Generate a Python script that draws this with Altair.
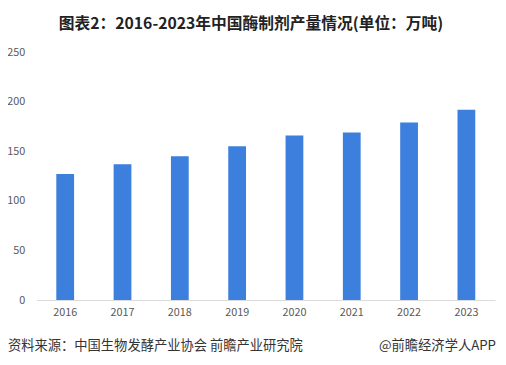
import altair as alt
import pandas as pd

years = ["2016", "2017", "2018", "2019", "2020", "2021", "2022", "2023"]
values = [127, 137, 145, 155, 166, 169, 179, 192]

df = pd.DataFrame({"year": years, "value": values})

FONT = "Noto Sans CJK SC"

bars = alt.Chart(df).mark_bar(color="#3C7FDC").encode(
    x=alt.X("year:N", sort=years, title=None,
            scale=alt.Scale(paddingInner=0.69, paddingOuter=0.345),
            axis=alt.Axis(labelAngle=0, ticks=False, domainColor="#d9d9d9",
                          labelColor="#595959", labelFontSize=11, labelFont=FONT,
                          labelPadding=7)),
    y=alt.Y("value:Q", title=None,
            scale=alt.Scale(domain=[0, 250]),
            axis=alt.Axis(values=[0, 50, 100, 150, 200, 250], grid=False, domain=False,
                          ticks=False, labelColor="#595959", labelFontSize=11,
                          labelFont=FONT, labelPadding=12)),
)

src = alt.Chart(pd.DataFrame({"t": ["资料来源：中国生物发酵产业协会 前瞻产业研究院"]})).mark_text(
    align="left", baseline="middle", fontSize=13.5, font=FONT, color="#333333"
).encode(text="t:N", x=alt.value(-29), y=alt.value(299))

app = alt.Chart(pd.DataFrame({"t": ["@前瞻经济学人APP"]})).mark_text(
    align="right", baseline="middle", fontSize=13.5, font=FONT, color="#333333"
).encode(text="t:N", x=alt.value(467), y=alt.value(299))

chart = alt.layer(bars, src, app).properties(
    width=466, height=252,
    title=alt.TitleParams("图表2：2016-2023年中国酶制剂产量情况(单位：万吨)",
                          font=FONT, fontSize=16, fontWeight="bold", color="#222222",
                          anchor="middle", dx=-15, offset=14),
    autosize=alt.AutoSizeParams(type="none"),
    padding={"left": 29, "top": 42, "right": 3, "bottom": 55},
).configure_view(stroke=None)

chart.save("out.html", embed_options={"renderer": "svg", "actions": False})
